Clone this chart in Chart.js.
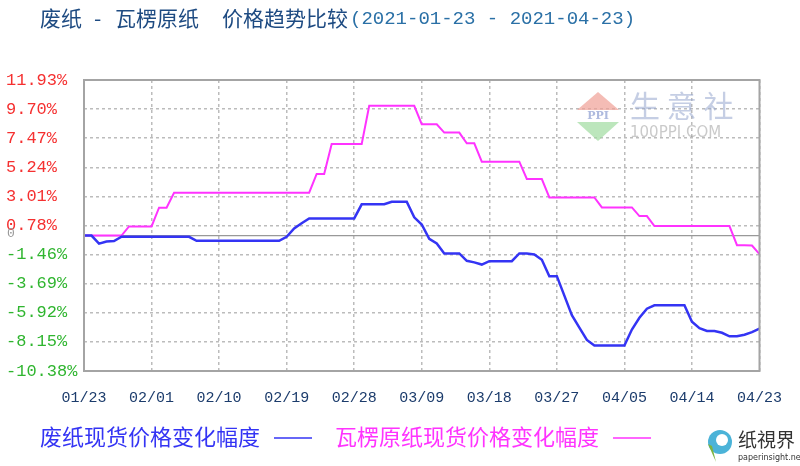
<!DOCTYPE html>
<html>
<head>
<meta charset="utf-8">
<script src="https://cdn.jsdelivr.net/npm/chart.js@4.4.1/dist/chart.umd.min.js"></script>
<style>
html, body { margin: 0; padding: 0; background: #fff; }
</style>
</head>
<body>
<canvas id="priceChart" width="800" height="466"></canvas>
<script>
// x轴刻度 (每9天一格)
const xTickLabels = ['01/23', '02/01', '02/10', '02/19', '02/28', '03/09', '03/18', '03/27', '04/05', '04/14', '04/23'];
// y轴刻度
const yTickValues = [11.93, 9.70, 7.47, 5.24, 3.01, 0.78, -1.46, -3.69, -5.92, -8.15, -10.38];

// 废纸现货价格变化幅度 (%), 01/23 起每日
const wastePaper = [
    0, 0, -0.62, -0.45, -0.42, -0.09, -0.09, -0.09, -0.09, -0.09,
    -0.09, -0.09, -0.09, -0.09, -0.09, -0.40, -0.40, -0.40, -0.40, -0.40,
    -0.40, -0.40, -0.40, -0.40, -0.40, -0.40, -0.40, -0.09, 0.55, 0.95,
    1.32, 1.32, 1.32, 1.32, 1.32, 1.32, 1.32, 2.40, 2.40, 2.40,
    2.40, 2.60, 2.60, 2.60, 1.40, 0.85, -0.25, -0.60, -1.37, -1.37,
    -1.37, -1.93, -2.05, -2.22, -1.96, -1.96, -1.96, -1.96, -1.37, -1.37,
    -1.45, -1.85, -3.11, -3.11, -4.60, -6.10, -7.05, -8.00, -8.42, -8.42,
    -8.42, -8.42, -8.42, -7.20, -6.30, -5.60, -5.34, -5.34, -5.34, -5.34,
    -5.34, -6.60, -7.10, -7.31, -7.31, -7.45, -7.72, -7.72, -7.60, -7.40,
    -7.13
];

// 瓦楞原纸现货价格变化幅度 (%)
const corrugated = [
    0, 0, 0, 0, 0, 0, 0.70, 0.70, 0.70, 0.70,
    2.14, 2.14, 3.29, 3.29, 3.29, 3.29, 3.29, 3.29, 3.29, 3.29,
    3.29, 3.29, 3.29, 3.29, 3.29, 3.29, 3.29, 3.29, 3.29, 3.29,
    3.29, 4.73, 4.73, 7.03, 7.03, 7.03, 7.03, 7.03, 9.95, 9.95,
    9.95, 9.95, 9.95, 9.95, 9.95, 8.54, 8.54, 8.54, 7.90, 7.90,
    7.90, 7.08, 7.08, 5.67, 5.67, 5.67, 5.67, 5.67, 5.67, 4.34,
    4.34, 4.34, 2.93, 2.93, 2.93, 2.93, 2.93, 2.93, 2.93, 2.16,
    2.16, 2.16, 2.16, 2.16, 1.50, 1.50, 0.73, 0.73, 0.73, 0.73,
    0.73, 0.73, 0.73, 0.73, 0.73, 0.73, 0.73, -0.73, -0.73, -0.76,
    -1.42
];

const seriesNames = ['废纸现货价格变化幅度', '瓦楞原纸现货价格变化幅度'];
const titleParts = ['废纸', '-', '瓦楞原纸', '价格趋势比较'];
const titleDates = '(2021-01-23 - 2021-04-23)';

const blue = '#3434f4';
const pink = '#ff33ff';
const totalDays = (xTickLabels.length - 1) * 9;

const toPoints = arr => arr.map((v, i) => ({ x: i, y: v }));

// 标题、图例、边框、水印
const decorPlugin = {
    id: 'decor',
    beforeDatasetsDraw(chart) {
        const ctx = chart.ctx;
        ctx.save();
        // 生意社水印
        ctx.fillStyle = 'rgba(240,160,150,0.7)';
        ctx.beginPath();
        ctx.moveTo(598, 92); ctx.lineTo(619, 110); ctx.lineTo(577, 110); ctx.closePath();
        ctx.fill();
        ctx.fillStyle = 'rgba(160,220,160,0.7)';
        ctx.beginPath();
        ctx.moveTo(577, 122); ctx.lineTo(619, 122); ctx.lineTo(598, 141); ctx.closePath();
        ctx.fill();
        ctx.fillStyle = 'rgba(120,140,200,0.6)';
        ctx.font = 'bold 11px "DejaVu Serif"';
        ctx.textAlign = 'center';
        ctx.textBaseline = 'middle';
        ctx.fillText('PPI', 598, 116);
        ctx.fillStyle = 'rgba(150,165,205,0.55)';
        ctx.font = '30px "Noto Sans CJK SC"';
        ctx.textAlign = 'left';
        ctx.fillText('生 意 社', 630, 106);
        ctx.fillStyle = 'rgba(150,150,150,0.5)';
        ctx.font = '15px "DejaVu Sans"';
        ctx.fillText('100PPI.COM', 630, 133);
        ctx.restore();
    },
    afterDraw(chart) {
        const ctx = chart.ctx;
        const area = chart.chartArea;
        const yScale = chart.scales.y;
        ctx.save();
        // 绘图区边框
        ctx.strokeStyle = '#a4a4a4';
        ctx.lineWidth = 2;
        ctx.strokeRect(area.left, area.top, area.right - area.left, area.bottom - area.top);

        // 标题
        ctx.textBaseline = 'middle';
        ctx.textAlign = 'left';
        ctx.font = '21px "Noto Sans CJK SC"';
        ctx.fillStyle = '#1e4b82';
        ctx.fillText(titleParts[0], 40, 18);
        ctx.fillText(titleParts[1], 94, 18);
        ctx.fillText(titleParts[2], 115, 18);
        ctx.fillText(titleParts[3], 222, 18);
        ctx.font = '19px "Liberation Mono"';
        ctx.fillStyle = '#2a70a6';
        ctx.fillText(titleDates, 350, 19);

        // 零点标记
        ctx.font = '13px "Liberation Mono"';
        ctx.fillStyle = '#999';
        ctx.fillText('0', 7, yScale.getPixelForValue(0) - 2);

        // 图例
        ctx.font = '22px "Noto Sans CJK SC"';
        ctx.fillStyle = blue;
        ctx.fillText(seriesNames[0], 40, 437);
        let x = 40 + ctx.measureText(seriesNames[0]).width + 14;
        ctx.strokeStyle = blue;
        ctx.lineWidth = 1.5;
        ctx.beginPath(); ctx.moveTo(x, 438); ctx.lineTo(x + 38, 438); ctx.stroke();
        ctx.fillStyle = pink;
        ctx.fillText(seriesNames[1], 335, 437);
        x = 335 + ctx.measureText(seriesNames[1]).width + 14;
        ctx.strokeStyle = pink;
        ctx.beginPath(); ctx.moveTo(x, 438); ctx.lineTo(x + 38, 438); ctx.stroke();

        // 纸视界 logo
        ctx.fillStyle = '#4bb3d8';
        ctx.beginPath(); ctx.arc(720, 442, 12, 0, Math.PI * 2); ctx.fill();
        ctx.fillStyle = '#ffffff';
        ctx.beginPath(); ctx.arc(722, 440, 6, 0, Math.PI * 2); ctx.fill();
        ctx.fillStyle = '#7cb342';
        ctx.beginPath(); ctx.moveTo(708, 444); ctx.lineTo(716, 462); ctx.lineTo(712, 446); ctx.closePath(); ctx.fill();
        ctx.fillStyle = '#333';
        ctx.font = '19px "Noto Sans CJK TC"';
        ctx.fillText('纸視界', 738, 440);
        ctx.font = '8px "DejaVu Sans"';
        ctx.fillText('paperinsight.net', 738, 458);
        ctx.restore();
    }
};

const ctx = document.getElementById('priceChart').getContext('2d');

const priceChart = new Chart(ctx, {
    type: 'line',
    data: {
        datasets: [{
            label: seriesNames[0],
            data: toPoints(wastePaper),
            borderColor: blue,
            borderWidth: 2.5,
            pointRadius: 0,
            tension: 0
        }, {
            label: seriesNames[1],
            data: toPoints(corrugated),
            borderColor: pink,
            borderWidth: 2,
            pointRadius: 0,
            tension: 0
        }, {
            label: 'zero',
            data: [{ x: 0, y: 0 }, { x: totalDays, y: 0 }],
            borderColor: '#999999',
            borderWidth: 1.2,
            pointRadius: 0
        }]
    },
    options: {
        responsive: false,
        animation: false,
        layout: {
            padding: { top: 80, right: 35, bottom: 55, left: 6 }
        },
        plugins: {
            legend: { display: false },
            tooltip: { enabled: false }
        },
        scales: {
            x: {
                type: 'linear',
                min: 0,
                max: totalDays,
                afterBuildTicks: scale => {
                    scale.ticks = xTickLabels.map((_, i) => ({ value: i * 9 }));
                },
                afterFit: scale => { scale.height = 40; },
                grid: { color: '#bcbcbc', lineWidth: 1.5, drawTicks: false },
                border: { display: false, dash: [3, 3] },
                ticks: {
                    padding: 18,
                    maxRotation: 0,
                    color: '#1c3c6c',
                    font: { family: 'Liberation Mono', size: 15 },
                    callback: (value) => xTickLabels[Math.round(value / 9)]
                }
            },
            y: {
                min: -10.38,
                max: 11.93,
                afterBuildTicks: scale => {
                    scale.ticks = yTickValues.map(v => ({ value: v }));
                },
                afterFit: scale => { scale.width = 78; },
                grid: { color: '#bcbcbc', lineWidth: 1.5, drawTicks: false },
                border: { display: false, dash: [3, 3] },
                ticks: {
                    padding: 7,
                    crossAlign: 'far',
                    color: c => c.tick.value >= 0 ? '#f53030' : '#2fb52f',
                    font: { family: 'Liberation Mono', size: 17 },
                    callback: v => v.toFixed(2) + '%'
                }
            }
        }
    },
    plugins: [decorPlugin]
});
</script>
</body>
</html>
